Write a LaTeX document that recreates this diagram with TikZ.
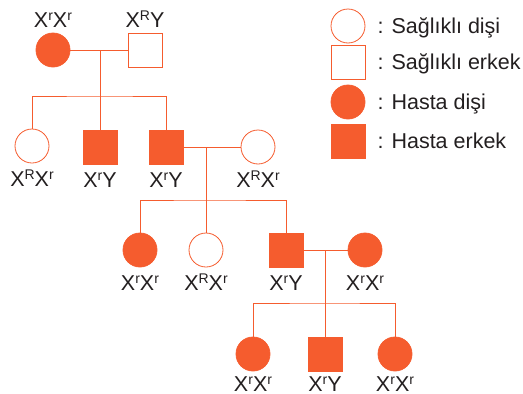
\documentclass[tikz,border=0pt]{standalone}
\usepackage{fontspec}
\setmainfont{Liberation Sans}
\usetikzlibrary{positioning}
\definecolor{pedi}{RGB}{245,92,46}
\definecolor{txt}{RGB}{35,31,32}
% raised allele letter
\newcommand{\al}[1]{\raisebox{7pt}{\fontsize{14}{14}\selectfont #1}}
\tikzset{
  fem/.style={circle,draw=pedi,line width=0.8pt,minimum size=34pt,inner sep=0pt},
  mal/.style={rectangle,draw=pedi,line width=0.8pt,minimum size=34pt,inner sep=0pt},
  aff/.style={fill=pedi},
  gen/.style={inner sep=0pt,text height=15.5pt,text depth=0pt,text=txt,
    font=\fontsize{21.5}{26}\selectfont},
  link/.style={draw=pedi,line width=0.8pt}
}

\begin{document}
\begin{tikzpicture}[x=1pt,y=-1pt]
\useasboundingbox (0,0) rectangle (523,394);

% generation I
\node[fem,aff] (g1f) at (53,50) {};
\node[mal] (g1m) at (145,50) {};
\node[gen,above=5pt of g1f] (t1f) {X\al{r}X\al{r}};
\node[gen,above=5pt of g1m] (t1m) {X\al{R}Y};
\coordinate (u1) at (100,50);
\coordinate (b1) at (100,96);

% generation II
\node[fem] (c11) at (32,146) {};
\node[mal,aff] (c12) at (100,147) {};
\node[mal,aff] (c13) at (166,147) {};
\node[fem] (s2) at (258,147) {};
\node[gen,below=7pt of c11] (t11) {X\al{R}X\al{r}};
\node[gen,below=7pt of c12] (t12) {X\al{r}Y};
\node[gen,below=7pt of c13] (t13) {X\al{r}Y};
\node[gen,below=7pt of s2] (ts2) {X\al{R}X\al{r}};
\coordinate (u2) at (206,147);
\coordinate (b2) at (206,200);

% generation III
\node[fem,aff] (c21) at (140,250) {};
\node[fem] (c22) at (206,250) {};
\node[mal,aff] (c23) at (286,250) {};
\node[fem,aff] (s3) at (365,250) {};
\node[gen,below=7pt of c21] (t21) {X\al{r}X\al{r}};
\node[gen,below=7pt of c22] (t22) {X\al{R}X\al{r}};
\node[gen,below=7pt of c23] (t23) {X\al{r}Y};
\node[gen,below=7pt of s3] (ts3) {X\al{r}X\al{r}};
\coordinate (u3) at (325,250);
\coordinate (b3) at (325,303);

% generation IV
\node[fem,aff] (c31) at (253,354) {};
\node[mal,aff] (c32) at (325,354) {};
\node[fem,aff] (c33) at (395,354) {};
\node[gen,below=4.5pt of c31] (t31) {X\al{r}X\al{r}};
\node[gen,below=4.5pt of c32] (t32) {X\al{r}Y};
\node[gen,below=4.5pt of c33] (t33) {X\al{r}X\al{r}};

% couples and sibships
\draw[link] (g1f) -- (g1m);
\draw[link] (u1) -- (b1);
\draw[link] (c11.north) |- (b1) -| (c13.north);
\draw[link] (b1) -- (c12);

\draw[link] (c13) -- (s2);
\draw[link] (u2) -- (b2);
\draw[link] (c21.north) |- (b2) -| (c23.north);
\draw[link] (b2) -- (c22);

\draw[link] (c23) -- (s3);
\draw[link] (u3) -- (b3);
\draw[link] (c31.north) |- (b3) -| (c33.north);
\draw[link] (b3) -- (c32);

% key
\node[fem] (k1) at (348,26) {};
\node[mal] (k2) at (348,62) {};
\node[fem,aff] (k3) at (348,102) {};
\node[mal,aff] (k4) at (348,141) {};
\node[gen,right=12pt of k1] (l1) {: Sağlıklı dişi};
\node[gen,right=12pt of k2] (l2) {: Sağlıklı erkek};
\node[gen,right=12pt of k3] (l3) {: Hasta dişi};
\node[gen,right=12pt of k4] (l4) {: Hasta erkek};
\end{tikzpicture}
\end{document}
